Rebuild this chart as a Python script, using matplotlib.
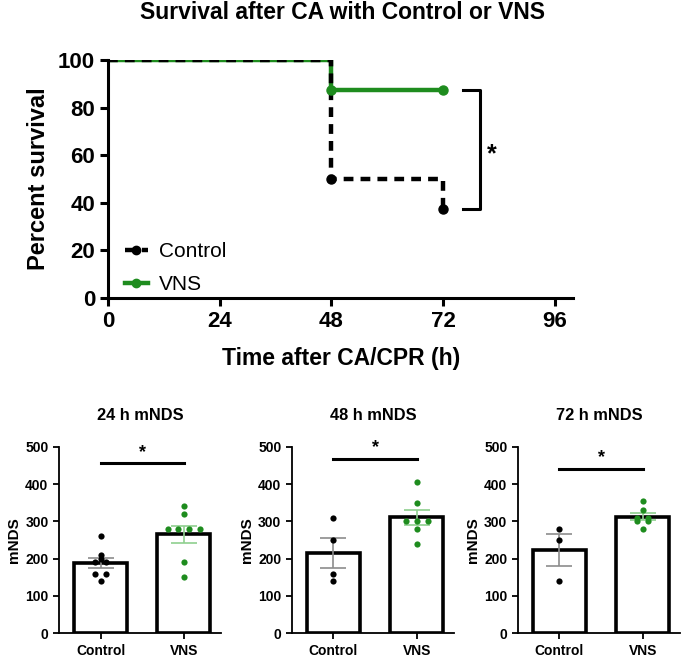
import numpy as np
import matplotlib.pyplot as plt

plt.rcParams['font.family'] = ['Liberation Sans', 'DejaVu Sans']

GREEN = '#1e8c1e'

# survival data (Kaplan-Meier steps)
ctrl_t = [0, 48, 48, 72, 72]
ctrl_s = [100, 100, 50, 50, 37.5]
vns_t = [0, 48, 48, 72]
vns_s = [100, 100, 87.5, 87.5]
ctrl_cens_t = [48, 72]
ctrl_cens_s = [50, 37.5]
vns_cens_t = [48, 72]
vns_cens_s = [87.5, 87.5]

# mNDS scores
titles = ['24 h mNDS', '48 h mNDS', '72 h mNDS']
control_pts = [
    [260, 200, 210, 190, 190, 160, 160, 140],
    [310, 250, 160, 140],
    [280, 250, 140],
]
vns_pts = [
    [340, 320, 280, 280, 280, 280, 190, 150],
    [405, 350, 300, 300, 300, 280, 240],
    [355, 330, 310, 310, 300, 300, 280],
]
sig_y = [457, 468, 441]
groups = ['Control', 'VNS']

fig = plt.figure(figsize=(6.85, 6.59), dpi=100)

# ---- survival plot ----
ax = fig.add_axes([0.158, 0.548, 0.679, 0.361])
ax.plot(ctrl_t, ctrl_s, color='black', lw=3.2, ls=(0, (2.2, 1.6)), zorder=3)
ax.plot(vns_t, vns_s, color=GREEN, lw=3.2, zorder=2)
ax.plot(vns_cens_t, vns_cens_s, 'o', color=GREEN, ms=6.5, zorder=4)
ax.plot(ctrl_cens_t, ctrl_cens_s, 'o', color='black', ms=6.5, zorder=4)
# legend handles
ax.plot([], [], color='black', lw=3.2, ls=(0, (2.2, 1.6)), marker='o', ms=6, label='Control')
ax.plot([], [], color=GREEN, lw=3.2, marker='o', ms=6, label='VNS')
ax.legend(loc='lower left', bbox_to_anchor=(-0.005, -0.062), frameon=False, fontsize=15,
          handlelength=1.1, handletextpad=0.55, labelspacing=0.65)

# significance bracket
ax.plot([76.2, 79.9, 79.9, 76.2], [87.5, 87.5, 37.5, 37.5], color='black', lw=2.2, clip_on=False)
ax.text(81.5, 60.5, '*', fontsize=18, fontweight='bold', ha='left', va='center')

ax.set_xlim(0, 100)
ax.set_ylim(0, 100)
ax.set_xticks([0, 24, 48, 72, 96])
ax.set_yticks([0, 20, 40, 60, 80, 100])
ax.spines['top'].set_visible(False)
ax.spines['right'].set_visible(False)
for s in ['left', 'bottom']:
    ax.spines[s].set_linewidth(2.2)
ax.tick_params(width=2.2, length=6, labelsize=16)
for lab in ax.get_xticklabels() + ax.get_yticklabels():
    lab.set_fontweight('bold')
ax.set_xlabel('Time after CA/CPR (h)', fontsize=16.5, fontweight='bold', labelpad=11)
ax.set_ylabel('Percent survival', fontsize=17, fontweight='bold', labelpad=6)
fig.text(0.5, 0.981, 'Survival after CA with Control or VNS', ha='center', va='center',
         fontsize=16.5, fontweight='bold')

# ---- mNDS bar panels ----
lefts = [0.086, 0.426, 0.756]
for i in range(3):
    bx = fig.add_axes([lefts[i], 0.039, 0.237, 0.283])
    c = np.array(control_pts[i])
    v = np.array(vns_pts[i])
    means = [c.mean(), v.mean()]
    sems = [c.std(ddof=1) / np.sqrt(len(c)), v.std(ddof=1) / np.sqrt(len(v))]
    bx.bar([0, 1], means, width=0.64, color='white', edgecolor='black', lw=2.6, zorder=1)
    bx.errorbar([0], [means[0]], yerr=[sems[0]], color='#8c8c8c', lw=1.2, capsize=9.5, capthick=1.2, zorder=3)
    bx.errorbar([1], [means[1]], yerr=[sems[1]], color='#8fcf8f', lw=1.2, capsize=9.5, capthick=1.2, zorder=3)
    # spread equal values sideways like a bee-swarm
    for k, (pts, col) in enumerate([(c, 'black'), (v, GREEN)]):
        xs = np.zeros(len(pts))
        for val in np.unique(pts):
            idx = np.where(pts == val)[0]
            n = len(idx)
            xs[idx] = (np.arange(n) - (n - 1) / 2) * 0.13
        bx.scatter(k + xs, pts, s=20, color=col, zorder=4, linewidths=0)
    bx.plot([0, 1], [sig_y[i], sig_y[i]], color='black', lw=2.2)
    bx.text(0.5, sig_y[i] + 6, '*', ha='center', va='bottom', fontsize=13, fontweight='bold')
    bx.set_xlim(-0.5, 1.45)
    bx.set_ylim(0, 500)
    bx.set_yticks([0, 100, 200, 300, 400, 500])
    bx.set_xticks([0, 1])
    bx.set_xticklabels(groups)
    bx.spines['top'].set_visible(False)
    bx.spines['right'].set_visible(False)
    for s in ['left', 'bottom']:
        bx.spines[s].set_linewidth(1.3)
    bx.tick_params(width=1.3, length=4, labelsize=10)
    for lab in bx.get_xticklabels() + bx.get_yticklabels():
        lab.set_fontweight('bold')
    bx.set_ylabel('mNDS', fontsize=11, fontweight='bold', labelpad=3)
    bx.set_title(titles[i], fontsize=11.8, fontweight='bold', pad=19)

fig.savefig('out.png', dpi=100)
